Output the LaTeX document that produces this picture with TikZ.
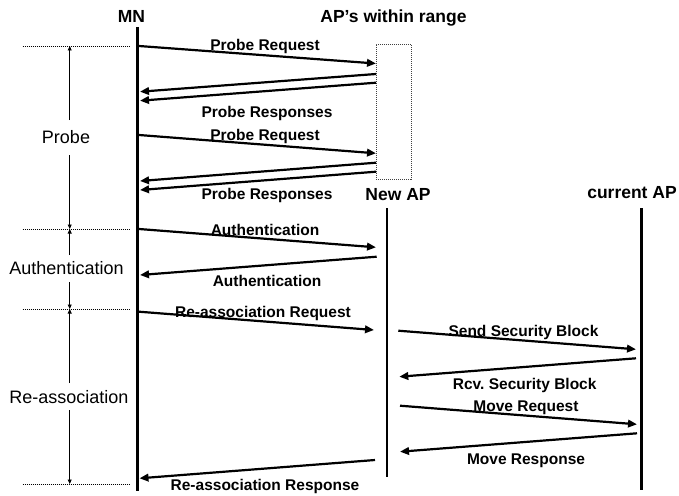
\documentclass[tikz,border=0pt]{standalone}
\usepackage{fontspec}
\setmainfont{Liberation Sans}
\usetikzlibrary{arrows.meta}
\frenchspacing
\begin{document}
\begin{tikzpicture}[x=1pt,y=-1pt,
 msg/.style={line width=2.2pt,-{Triangle[length=9pt,width=7.5pt]}},
 life/.style={line width=2.6pt},
 lbl/.style={font=\fontsize{15.5}{18}\selectfont\bfseries, anchor=base, inner sep=0pt},
 hdr/.style={font=\fontsize{17.5}{20}\selectfont\bfseries, anchor=base, inner sep=0pt},
 phase/.style={font=\fontsize{18}{21}\selectfont, anchor=base, inner sep=0pt},
 guide/.style={line width=0.8pt, dash pattern=on 1pt off 1pt},
 boxst/.style={draw=black!75, line width=0.7pt, dash pattern=on 1pt off 1pt, inner sep=0pt},
 dim/.style={line width=0.9pt,-{Triangle[length=4.5pt,width=4pt]}}]
\useasboundingbox (0,0) rectangle (679,495);

% headers
\node[hdr] (hMN) at (131.5,22.7) {MN};
\node[hdr] (hAPs) at (393.5,22.7) {AP’s within range};
\node[hdr] (hNew) at (398,200) {New AP};
\node[hdr] (hCur) at (632,198) {current AP};

% lifelines
\coordinate (mnT) at (137.5,27);  \coordinate (mnB) at (137.5,491);
\coordinate (naT) at (387,208);   \coordinate (naB) at (387,477);
\coordinate (caT) at (641.5,208); \coordinate (caB) at (641.5,490);
\draw[life] (mnT) -- (mnB);
\draw[life] (naT) -- (naB);
\draw[life] (caT) -- (caB);

% APs within range box
\node[boxst, minimum width=35pt, minimum height=135pt] (apbox) at (393.5,111.5) {};

% message endpoints
\coordinate (m1a) at (139,46);    \coordinate (m1b) at (376,63.5);
\coordinate (m2a) at (376,74);    \coordinate (m2b) at (140,91.7);
\coordinate (m3a) at (376,82.7);  \coordinate (m3b) at (140,100.7);
\coordinate (m4a) at (139,135);   \coordinate (m4b) at (376,153.3);
\coordinate (m5a) at (376,162.7); \coordinate (m5b) at (140,181);
\coordinate (m6a) at (376,171.7); \coordinate (m6b) at (140,190);
\coordinate (m7a) at (139,229);   \coordinate (m7b) at (376,247.3);
\coordinate (m8a) at (376.7,256.7); \coordinate (m8b) at (140,275);
\coordinate (m9a) at (139,311.7); \coordinate (m9b) at (374,330);
\coordinate (m10a) at (398.3,330.7); \coordinate (m10b) at (636,349.3);
\coordinate (m11a) at (636,358.3); \coordinate (m11b) at (399.3,376.7);
\coordinate (m12a) at (400,405.7); \coordinate (m12b) at (637,424.3);
\coordinate (m13a) at (637,433.3); \coordinate (m13b) at (400,451.7);
\coordinate (m14a) at (375,460);  \coordinate (m14b) at (139.5,478.3);

\foreach \i in {1,...,14} \draw[msg] (m\i a) -- (m\i b);

% message labels
\node[lbl] (l1) at (265,51) {Probe Request};
\node[lbl] (l2) at (267,117) {Probe Responses};
\node[lbl] (l3) at (265,140.5) {Probe Request};
\node[lbl] (l4) at (267,199) {Probe Responses};
\node[lbl] (l5) at (265,235) {Authentication};
\node[lbl] (l6) at (267,286.5) {Authentication};
\node[lbl] (l7) at (263,317) {Re-association Request};
\node[lbl] (l8) at (523.5,336.5) {Send Security Block};
\node[lbl] (l9) at (524.7,389) {Rcv. Security Block};
\node[lbl] (l10) at (526,411.5) {Move Request};
\node[lbl] (l11) at (526,464) {Move Response};
\node[lbl] (l12) at (265,490.5) {Re-association Response};

% phase guides
\coordinate (g1a) at (22.7,46);  \coordinate (g1b) at (129.3,46);
\coordinate (g2a) at (22.7,229); \coordinate (g2b) at (129.3,229);
\coordinate (g3a) at (22.7,309); \coordinate (g3b) at (129.3,309);
\coordinate (g4a) at (22.7,484); \coordinate (g4b) at (129.3,484);
\foreach \i in {1,...,4} \draw[guide] (g\i a) -- (g\i b);

% phase labels
\node[phase] (pProbe) at (66,143) {Probe};
\node[phase] (pAuth) at (66.5,274) {Authentication};
\node[phase] (pReas) at (69,403) {Re-association};

% dimension arrows
\coordinate (d1a) at (69.7,120); \coordinate (d1b) at (69.7,46);
\coordinate (d2a) at (69.7,155); \coordinate (d2b) at (69.7,229);
\coordinate (d3a) at (69.7,255); \coordinate (d3b) at (69.7,229);
\coordinate (d4a) at (69.7,282); \coordinate (d4b) at (69.7,309);
\coordinate (d5a) at (69.7,383); \coordinate (d5b) at (69.7,309);
\coordinate (d6a) at (69.7,410); \coordinate (d6b) at (69.7,484);
\foreach \i in {1,...,6} \draw[dim] (d\i a) -- (d\i b);
\end{tikzpicture}
\end{document}
